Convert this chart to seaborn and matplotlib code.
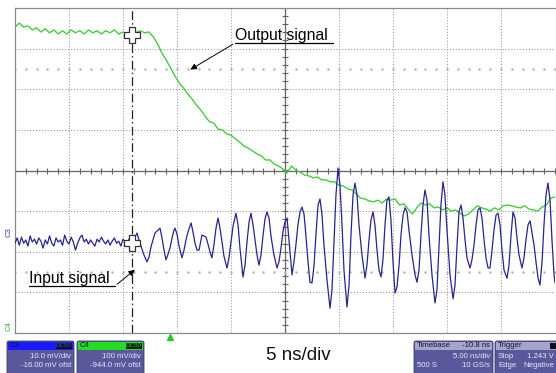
import numpy as np
import pandas as pd
import matplotlib
matplotlib.use("Agg")
import matplotlib.pyplot as plt
from matplotlib.patches import FancyBboxPatch, Rectangle
import seaborn as sns

# ---------------- data (time in ns from left edge, level in screen divisions from centre) -------------
c4_t = [0.0, 0.4, 0.8, 1.2, 1.6, 2.0, 2.4, 2.8, 3.2, 3.6, 4.0, 4.4, 4.8, 5.2, 5.6, 6.0, 6.4, 6.8, 7.2, 7.6,
        8.0, 8.4, 8.8, 9.2, 9.6, 10.0, 10.4, 10.8, 11.2, 11.6, 12.0, 12.4, 12.8, 13.2, 13.6, 14.0, 14.4, 14.8,
        15.2, 15.6, 16.0, 16.4, 16.8, 17.2, 17.6, 18.0, 18.4, 18.8, 19.2, 19.6, 20.0, 20.4, 20.8, 21.2, 21.6,
        22.0, 22.4, 22.8, 23.2, 23.6, 24.0, 24.4, 24.8, 25.2, 25.6, 26.0, 26.4, 26.8, 27.2, 27.6, 28.0, 28.4,
        28.8, 29.2, 29.6, 30.0, 30.4, 30.8, 31.2, 31.6, 32.0, 32.4, 32.8, 33.2, 33.6, 34.0, 34.4, 34.8, 35.2,
        35.6, 36.0, 36.4, 36.8, 37.2, 37.6, 38.0, 38.4, 38.8, 39.2, 39.6, 40.0, 40.4, 40.8, 41.2, 41.6, 42.0,
        42.4, 42.8, 43.2, 43.6, 44.0, 44.4, 44.8, 45.2, 45.6, 46.0, 46.4, 46.8, 47.2, 47.6, 48.0, 48.4, 48.8,
        49.2, 49.6, 50.0]
c4_div = [3.53, 3.63, 3.53, 3.56, 3.46, 3.51, 3.41, 3.49, 3.39, 3.46, 3.36, 3.44, 3.36, 3.46, 3.39, 3.44,
          3.36, 3.46, 3.39, 3.44, 3.36, 3.44, 3.39, 3.46, 3.36, 3.41, 3.36, 3.44, 3.39, 3.44, 3.39, 3.41,
          3.29, 3.12, 2.89, 2.72, 2.53, 2.33, 2.16, 2.03, 1.88, 1.76, 1.61, 1.49, 1.34, 1.20, 1.17, 1.02,
          1.00, 0.90, 0.87, 0.78, 0.70, 0.60, 0.55, 0.48, 0.41, 0.36, 0.26, 0.26, 0.16, 0.11, 0.04, -0.06,
          0.11, 0.01, -0.04, -0.11, -0.13, -0.18, -0.16, -0.23, -0.23, -0.28, -0.28, -0.36, -0.38, -0.45,
          -0.48, -0.58, -0.68, -0.70, -0.75, -0.77, -0.73, -0.80, -0.70, -0.73, -0.70, -0.85, -0.82, -0.95,
          -1.07, -0.92, -0.80, -0.85, -0.82, -0.92, -0.90, -0.97, -0.92, -1.00, -0.97, -1.05, -1.12, -1.07,
          -0.97, -0.87, -0.92, -0.95, -1.00, -0.92, -0.97, -0.87, -0.85, -0.87, -0.90, -0.92, -0.87, -0.95,
          -0.97, -1.00, -0.90, -0.85, -0.68, -0.65]

c3_t = [0.0, 0.2, 0.4, 0.6, 0.8, 1.0, 1.2, 1.4, 1.6, 1.8, 2.0, 2.2, 2.4, 2.6, 2.8, 3.0, 3.2, 3.4, 3.6, 3.8,
        4.0, 4.2, 4.4, 4.6, 4.8, 5.0, 5.2, 5.4, 5.6, 5.8, 6.0, 6.2, 6.4, 6.6, 6.8, 7.0, 7.2, 7.4, 7.6, 7.8,
        8.0, 8.2, 8.4, 8.6, 8.8, 9.0, 9.2, 9.4, 9.6, 9.8, 10.0, 10.2, 10.4, 10.6, 10.8, 11.0, 11.2,
        11.30, 11.48, 11.67, 11.94, 12.22, 12.41, 12.59, 12.78, 12.96, 13.15, 13.43, 13.61, 13.80, 13.98,
        14.17, 14.35, 14.54, 14.72, 14.81, 15.00, 15.19, 15.46, 15.65, 15.83, 16.02, 16.30, 16.48, 16.67,
        16.85, 17.04, 17.22, 17.31, 17.50, 17.69, 17.87, 18.06, 18.24, 18.43, 18.61, 18.80, 18.98, 19.17,
        19.35, 19.63, 19.81, 20.00, 20.19, 20.46, 20.65, 20.83, 21.11, 21.30, 21.48, 21.67, 21.85, 22.04,
        22.22, 22.41, 22.59, 22.78, 22.96, 23.15, 23.33, 23.52, 23.70, 23.98, 24.26, 24.44, 24.63, 24.81,
        25.00, 25.19, 25.37, 25.65, 25.83, 26.02, 26.20, 26.39, 26.57, 26.76, 26.94, 27.13, 27.31, 27.50,
        27.69, 27.87, 28.06, 28.24, 28.43, 28.61, 28.89, 29.17, 29.35, 29.54, 29.72, 29.91, 30.09, 30.28,
        30.46, 30.74, 30.93, 31.11, 31.30, 31.48, 31.67, 31.85, 32.13, 32.41, 32.59, 32.78, 32.96, 33.15,
        33.33, 33.52, 33.70, 33.89, 34.07, 34.26, 34.44, 34.63, 34.81, 35.00, 35.19, 35.37, 35.56, 35.74,
        35.93, 36.11, 36.30, 36.48, 36.76, 37.04, 37.22, 37.41, 37.59, 37.78, 37.96, 38.15, 38.33, 38.61,
        38.89, 39.07, 39.26, 39.44, 39.63, 39.81, 40.00, 40.28, 40.56, 40.74, 40.93, 41.11, 41.30, 41.48,
        41.67, 41.85, 42.13, 42.31, 42.50, 42.69, 42.87, 43.06, 43.24, 43.43, 43.61, 43.80, 43.98, 44.17,
        44.35, 44.54, 44.72, 44.91, 45.09, 45.28, 45.56, 45.74, 45.93, 46.11, 46.30, 46.48, 46.67, 46.94,
        47.13, 47.31, 47.50, 47.69, 47.87, 48.06, 48.24, 48.43, 48.61, 48.80, 48.98, 49.17, 49.35, 49.54,
        49.72, 49.91, 50.00]
c3_div = [-1.79, -1.66, -1.84, -1.64, -1.79, -1.71, -1.86, -1.61, -1.76, -1.69, -1.81, -1.66, -1.74, -1.91,
          -1.71, -1.81, -1.61, -1.79, -1.86, -1.66, -1.76, -1.71, -1.84, -1.59, -1.74, -1.81, -1.64, -1.76,
          -1.96, -1.79, -1.66, -1.59, -1.76, -1.69, -1.81, -1.71, -1.79, -1.86, -1.69, -1.76, -1.64, -1.74,
          -1.81, -1.71, -1.84, -1.74, -1.66, -1.79, -1.74, -1.86, -1.69, -1.76, -1.81, -1.66, -1.79, -1.71,
          -1.59,
          -1.54, -1.71, -1.86, -2.08, -2.25, -2.13, -1.88, -1.71, -1.54, -1.49, -1.42, -1.66, -1.96, -2.20,
          -2.06, -1.91, -1.66, -1.47, -1.42, -1.56, -1.86, -2.15, -1.96, -1.71, -1.51, -1.29, -1.51, -1.79,
          -1.96, -1.96, -1.71, -1.59, -1.61, -1.64, -1.81, -2.01, -2.15, -1.81, -1.42, -1.17, -1.42, -1.76,
          -2.11, -2.40, -2.15, -1.76, -1.37, -1.05, -1.34, -1.91, -2.62, -2.33, -1.76, -1.27, -1.05, -1.34,
          -1.71, -2.08, -2.33, -2.08, -1.61, -1.19, -1.02, -1.17, -1.61, -2.08, -2.40, -2.25, -1.91, -1.51,
          -1.27, -1.17, -1.71, -2.57, -2.25, -1.81, -1.34, -1.02, -0.90, -1.07, -1.61, -2.25, -2.75, -2.77,
          -2.33, -1.56, -0.85, -0.70, -1.10, -1.84, -2.70, -3.39, -2.94, -1.71, -0.60, 0.06, -0.36, -1.34,
          -2.45, -3.36, -2.82, -1.59, -0.60, -0.31, -0.60, -1.34, -2.08, -2.65, -2.33, -1.71, -1.22, -1.02,
          -1.34, -1.96, -2.45, -2.62, -2.20, -1.34, -0.73, -0.65, -1.22, -2.25, -3.02, -2.87, -2.33, -1.59,
          -1.10, -0.92, -1.02, -1.47, -2.08, -2.57, -2.75, -2.45, -1.59, -0.85, -0.48, -0.73, -1.59, -2.57,
          -3.26, -2.94, -1.84, -0.85, -0.28, -0.60, -1.47, -2.57, -3.16, -2.82, -1.84, -1.02, -0.85, -1.17,
          -1.71, -2.15, -2.40, -2.20, -1.84, -1.34, -0.97, -0.92, -1.17, -1.71, -2.15, -2.40, -2.40, -1.96,
          -1.47, -1.10, -1.05, -1.34, -1.96, -2.45, -2.65, -2.33, -1.59, -1.02, -1.17, -1.66, -2.08, -2.40,
          -2.15, -1.71, -1.34, -1.24, -1.54, -1.84, -2.25, -2.65, -2.82, -2.25, -1.34, -0.60, -0.31, -0.73,
          -1.71, -2.57, -2.77]

cursor_t = 10.83
cursor_levels = [3.34, -1.79]
trigger_t = 14.35

c3_info = ["10.0 mV/div", "-16.00 mV ofst"]
c4_info = ["100 mV/div", "-944.0 mV ofst"]
timebase_info = ("Timebase", "-10.8 ns", "5.00 ns/div", "500 S", "10 GS/s")
trigger_info = ("Trigger", "Stop", "1.243 V", "Edge", "Negative")

df4 = pd.DataFrame({"t": c4_t, "v": c4_div})
df3 = pd.DataFrame({"t": c3_t, "v": c3_div})

# ---------------- figure -------------
sns.set_style("white")
plt.rcParams["font.family"] = ["Liberation Sans", "DejaVu Sans"]

W, H = 556, 373
fig = plt.figure(figsize=(W / 100, H / 100), dpi=100)
fig.patch.set_facecolor("white")

L, R, T, B = 15, 555, 8, 333
ax = fig.add_axes([L / W, (H - B) / H, (R - L) / W, (B - T) / H])
ax.set_xlim(0, 50)
ax.set_ylim(-4, 4)
ax.set_xticks([])
ax.set_yticks([])
for s in ax.spines.values():
    s.set_color("#8a8a8a")
    s.set_linewidth(0.9)
ax.spines["right"].set_visible(False)

# graticule
for xv in np.arange(5, 50, 5):
    if xv != 25:
        ax.axvline(xv, color="#9a9a9a", lw=0.7, ls=(0, (1.2, 1.8)), zorder=1)
for yv in np.arange(-3, 4, 1):
    if yv != 0:
        ax.axhline(yv, color="#9a9a9a", lw=0.7, ls=(0, (1.2, 1.8)), zorder=1)
ax.axhline(0, color="#666666", lw=0.9, zorder=1)
ax.axvline(25, color="#666666", lw=0.9, zorder=1)
mt = np.arange(0, 50.01, 1.0)
ax.plot(mt, np.zeros_like(mt), ls="none", marker="|", ms=4, mew=0.8, color="#666666", zorder=1)
mv = np.arange(-4, 4.01, 0.2)
ax.plot(np.full_like(mv, 25.0), mv, ls="none", marker="_", ms=5, mew=0.8, color="#666666", zorder=1)
for yl in (2.5, -2.5):
    ax.plot(mt, np.full_like(mt, yl), ls="none", marker="o", ms=0.8, color="#b4b4b4", zorder=1)

# traces
sns.lineplot(data=df4, x="t", y="v", ax=ax, color="#45cc3c", lw=1.0, estimator=None, sort=False, zorder=3)
sns.lineplot(data=df3, x="t", y="v", ax=ax, color="#25258f", lw=0.9, estimator=None, sort=False, zorder=4)
ax.set_xlabel("")
ax.set_ylabel("")

# cursor
ax.axvline(cursor_t, color="#222222", lw=0.9, ls=(0, (7, 2.5, 1.2, 2.5)), zorder=5)
ax.plot([cursor_t] * 2, cursor_levels, ls="none", marker="P", ms=11, mfc="white", mec="#333333", mew=0.9, zorder=6)

# ---------------- overlay in pixel coordinates -------------
ov = fig.add_axes([0, 0, 1, 1], facecolor="none")
ov.set_xlim(0, W)
ov.set_ylim(H, 0)
ov.axis("off")

ov.text(235, 40, "Output signal", fontsize=11.3, color="black", ha="left", va="baseline")
ov.plot([235, 333], [43, 43], color="black", lw=0.9)
ov.annotate("", xy=(188, 71), xytext=(235, 43),
            arrowprops=dict(arrowstyle="-|>", color="black", lw=0.7, mutation_scale=9))

ov.text(29, 283, "Input signal", fontsize=11.3, color="black", ha="left", va="baseline")
ov.plot([29, 115], [286, 286], color="black", lw=0.9)
ov.annotate("", xy=(137, 268), xytext=(115, 286),
            arrowprops=dict(arrowstyle="-|>", color="black", lw=0.7, mutation_scale=9))

ov.text(298, 356, "5 ns/div", fontsize=13.5, color="#111111", ha="center", va="center")

# trigger marker and channel markers
ov.plot([L + trigger_t * 10.8], [336.5], marker="^", ms=5, color="#22cc22", ls="none")
ov.text(9, 232, "C3", rotation=90, fontsize=5.5, color="#3333cc", ha="center", va="center")
ov.text(9, 326, "C4", rotation=90, fontsize=5.5, color="#22bb22", ha="center", va="center")

body = "#58589a"
def panel(x0, x1, head_col, head_txt, head_right, lines, dark_box=None, box_txt_col=None, right_x=None):
    ov.add_patch(FancyBboxPatch((x0, 341), x1 - x0, 40, boxstyle="round,pad=0,rounding_size=2",
                                fc=body, ec="#3a3a70", lw=0.6))
    ov.add_patch(Rectangle((x0 + 1, 342), x1 - x0 - 2, 7.5, fc=head_col, ec="none"))
    ov.text(x0 + 3, 345.8, head_txt, fontsize=5.6, color="#111133", ha="left", va="center")
    if dark_box is not None:
        ov.add_patch(Rectangle((x1 - 18, 342.5), 16, 6.5, fc="#111111", ec="none"))
        ov.text(x1 - 10, 345.8, dark_box, fontsize=4.5, color=box_txt_col, ha="center", va="center")
    if head_right:
        ov.text(x1 - 3, 345.8, head_right, fontsize=5.6, color="#111133", ha="right", va="center")
    for (lt, rt), yy in zip(lines, (356, 365.5)):
        if lt:
            ov.text(x0 + 3, yy, lt, fontsize=5.6, color="#e8e8ff", ha="left", va="center")
        if rt:
            if right_x is None:
                ov.text(x1 - 3, yy, rt, fontsize=5.6, color="#e8e8ff", ha="right", va="center")
            else:
                ov.text(right_x, yy, rt, fontsize=5.6, color="#e8e8ff", ha="right", va="center")

panel(7, 74, "#1a1aff", "C3", None, [("", c3_info[0]), ("", c3_info[1])], dark_box="DC50", box_txt_col="#3355ff")
panel(77, 144, "#22dd22", "C4", None, [("", c4_info[0]), ("", c4_info[1])], dark_box="DC50", box_txt_col="#22dd22")
panel(414, 493, "#a4a4cc", timebase_info[0], timebase_info[1],
      [("", timebase_info[2]), (timebase_info[3], timebase_info[4])])
panel(495, 575, "#a4a4cc", trigger_info[0], None,
      [(trigger_info[1], trigger_info[2]), (trigger_info[3], trigger_info[4])], right_x=554)
ov.add_patch(Rectangle((550, 342.5), 8, 6.5, fc="#111111", ec="none"))

fig.savefig("out.png", dpi=100)
